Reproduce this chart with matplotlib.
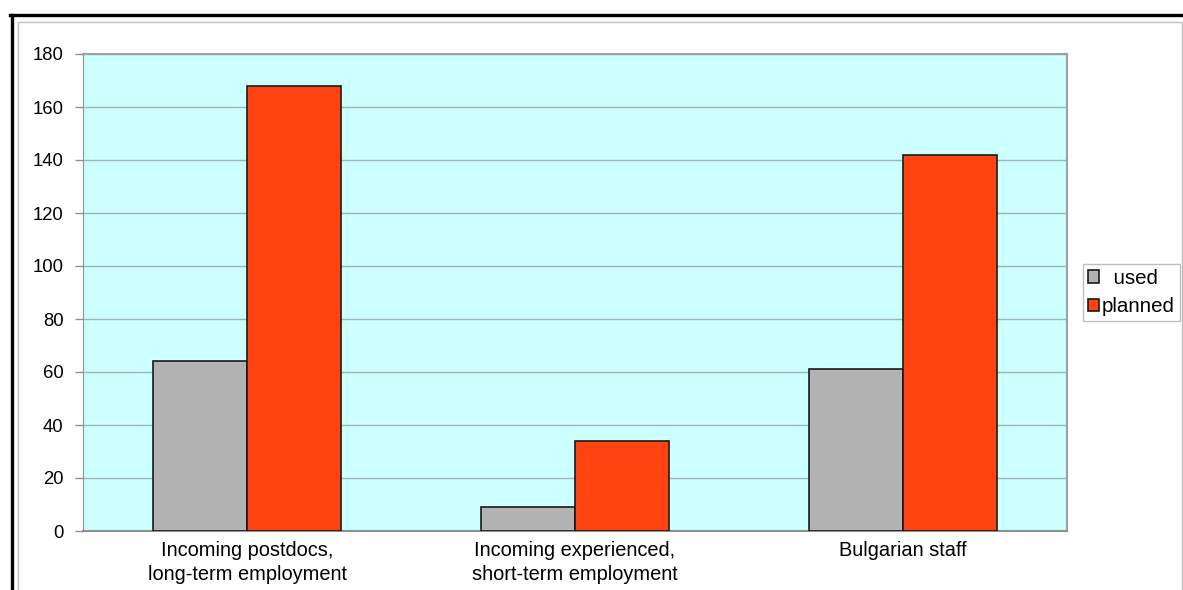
import matplotlib.pyplot as plt
import numpy as np
from matplotlib.lines import Line2D
from matplotlib.patches import Rectangle

plt.rcParams['font.family'] = ['Liberation Sans', 'DejaVu Sans']

categories = ['Incoming postdocs,\nlong-term employment',
              'Incoming experienced,\nshort-term employment',
              'Bulgarian staff']
used = [64, 9, 61]
planned = [168, 34, 142]
yticks = [0, 20, 40, 60, 80, 100, 120, 140, 160, 180]

W, H = 1183, 590
fig = plt.figure(figsize=(W / 100, H / 100), dpi=100)

# outer frames: thick black on top/left, thin gray chart border
fig.add_artist(Line2D([10 / W, 1], [1 - 15 / H, 1 - 15 / H], color='black', lw=2.4))
fig.add_artist(Line2D([11.5 / W, 11.5 / W], [0, 1 - 15 / H], color='black', lw=2.4))
fig.add_artist(Rectangle((18 / W, -0.05), (1182 - 18) / W, 1.05 - 22 / H,
                         transform=fig.transFigure, fill=False,
                         edgecolor='#c0c0c0', lw=1))

ax = fig.add_axes([83 / W, 1 - 531 / H, (1067 - 83) / W, (531 - 54) / H])
ax.set_facecolor('#ccffff')

x = np.arange(len(categories))
w = 94 / 328
ax.bar(x - w / 2, used, w, color='#b3b3b3', edgecolor='#1a1a1a', lw=1.2,
       label='  used', zorder=3)
ax.bar(x + w / 2, planned, w, color='#ff4411', edgecolor='#1a1a1a', lw=1.2,
       label='planned', zorder=3)

ax.set_xlim(-0.5, 2.5)
ax.set_ylim(0, 180)
ax.set_yticks(yticks)
ax.yaxis.grid(True, color='#9fb5b5', lw=1, zorder=0)
ax.set_xticks(x)
ax.set_xticklabels(categories, fontsize=14.4, linespacing=1.38)
ax.tick_params(axis='x', length=0, pad=7)
ax.tick_params(axis='y', length=6, width=1, color='#909090', labelsize=13.3, pad=8)

for side in ['top', 'right']:
    ax.spines[side].set_color('#a0a0a0')
    ax.spines[side].set_linewidth(1.5)
ax.spines['left'].set_color('#909090')
ax.spines['bottom'].set_color('#909090')
ax.spines['bottom'].set_linewidth(1.5)

leg = ax.legend(loc='center left', bbox_to_anchor=(1083 / W, 1 - 292.5 / H),
                bbox_transform=fig.transFigure, fontsize=14.8, frameon=True,
                fancybox=False, edgecolor='#b0b0b0', handlelength=0.55,
                handleheight=0.55, handletextpad=0.1, borderpad=0.25,
                labelspacing=0.45, borderaxespad=0)
leg.get_frame().set_linewidth(1)

fig.savefig('out.png', dpi=100)
